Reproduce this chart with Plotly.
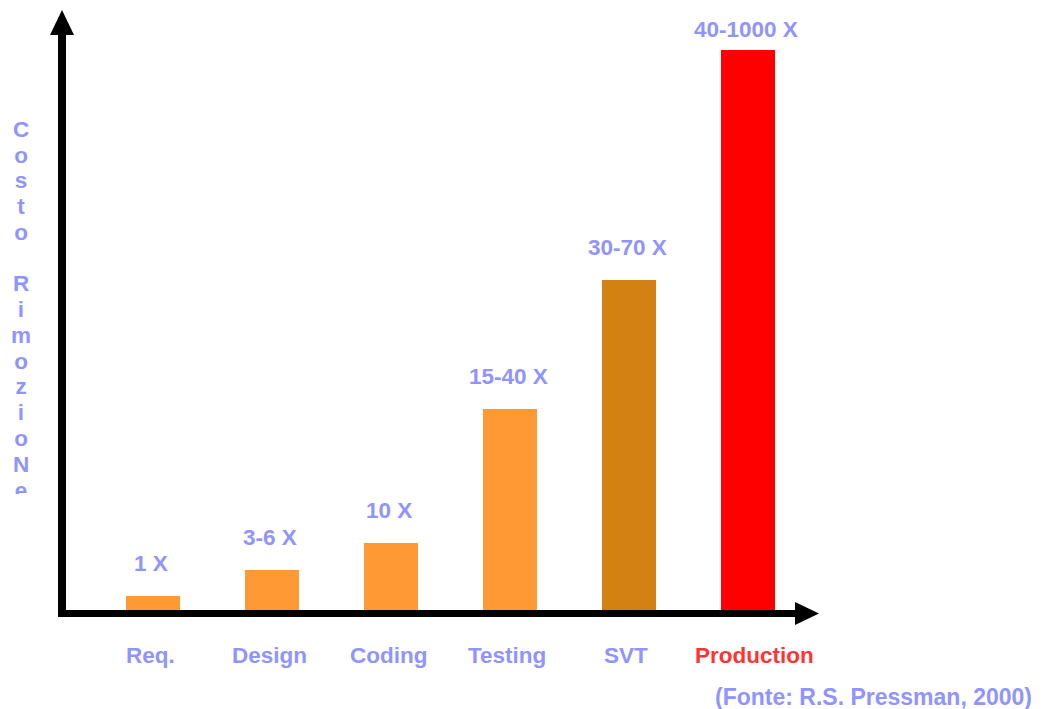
import plotly.graph_objects as go

# Development phases and the relative cost of removing a defect in each one
phases = ["Req.", "Design", "Coding", "Testing", "SVT", "Production"]
cost_labels = ["1 X", "3-6 X", "10 X", "15-40 X", "30-70 X", "40-1000 X"]
bar_heights = [17, 43, 70, 204, 333, 563]  # relative (illustrative) bar heights
bar_colors = ["#FF9933", "#FF9933", "#FF9933", "#FF9933", "#D38113", "#FF0000"]
phase_label_colors = ["#8F94FF", "#8F94FF", "#8F94FF", "#8F94FF", "#8F94FF", "#FF3333"]
axis_title = "Costo RimozioNe"
source_note = "(Fonte: R.S. Pressman, 2000)"

W, H = 1044, 709
TEXT = "#8F94FF"
FONT = "Liberation Sans, Arial, sans-serif"
FS = 22.5

# geometry of the drawing area (pixel based)
BASE_Y = 613          # baseline pixel row
FIRST_X = 153         # centre of first bar
STEP = 119            # distance between bars
BAR_W = 54


def px(xp):
    return xp / W


def py(yp):
    return 1 - yp / H


fig = go.Figure()

fig.add_trace(go.Bar(
    x=list(range(len(phases))),
    y=bar_heights,
    marker=dict(color=bar_colors, line=dict(width=0)),
    width=BAR_W / STEP,
    hoverinfo="skip",
    showlegend=False,
))

# vertical axis title, one letter per row, clipped by its own small subplot
letters = list(axis_title)
row_gap = 25.77
first_baseline = 139
clip_bottom = 494
fig.add_trace(go.Scatter(
    x=[21] * len(letters),
    y=[first_baseline + i * row_gap - 0.35 * FS for i in range(len(letters))],
    text=letters,
    mode="text",
    textposition="middle center",
    textfont=dict(family=FONT, size=FS, color=TEXT, weight="bold"),
    cliponaxis=True,
    hoverinfo="skip",
    showlegend=False,
    xaxis="x2",
    yaxis="y2",
))

annotations = []
label_top_limit = BASE_Y - 29.5
for i, (lab, h) in enumerate(zip(cost_labels, bar_heights)):
    annotations.append(dict(
        x=i, y=min(h + 33, label_top_limit), xref="x", yref="y",
        text=lab, showarrow=False, xanchor="center", yanchor="middle",
        xshift=-2,
        font=dict(family=FONT, size=FS, color=TEXT, weight="bold"),
    ))
for i, (ph, c) in enumerate(zip(phases, phase_label_colors)):
    annotations.append(dict(
        x=i, y=-42, xref="x", yref="y",
        text=ph, showarrow=False, xanchor="center", yanchor="middle",
        xshift=6 if ph == "Production" else -3,
        font=dict(family=FONT, size=FS, color=c, weight="bold"),
    ))
annotations.append(dict(
    x=px(1034), y=py(697), xref="paper", yref="paper",
    text=source_note, showarrow=False, xanchor="right", yanchor="middle",
    font=dict(family=FONT, size=23, color=TEXT, weight="bold"),
))

# axes drawn as thick black arrows
shapes = [
    dict(type="rect", xref="paper", yref="paper",
         x0=px(58), x1=px(66), y0=py(30), y1=py(617),
         fillcolor="black", line=dict(width=0), layer="above"),
    dict(type="path", xref="paper", yref="paper",
         path=f"M {px(62)} {py(10)} L {px(74)} {py(35)} L {px(50)} {py(35)} Z",
         fillcolor="black", line=dict(width=0), layer="above"),
    dict(type="rect", xref="paper", yref="paper",
         x0=px(58), x1=px(798), y0=py(610), y1=py(617),
         fillcolor="black", line=dict(width=0), layer="above"),
    dict(type="path", xref="paper", yref="paper",
         path=f"M {px(819)} {py(613.5)} L {px(795)} {py(602)} L {px(795)} {py(625)} Z",
         fillcolor="black", line=dict(width=0), layer="above"),
]

fig.update_layout(
    width=W, height=H,
    margin=dict(l=0, r=0, t=0, b=0, pad=0),
    paper_bgcolor="white", plot_bgcolor="white",
    xaxis=dict(range=[-FIRST_X / STEP, (W - FIRST_X) / STEP], visible=False,
               domain=[0, 1], fixedrange=True),
    yaxis=dict(range=[-(H - BASE_Y), BASE_Y], visible=False,
               domain=[0, 1], fixedrange=True),
    xaxis2=dict(range=[0, 52], domain=[0, 52 / W], visible=False,
                anchor="y2", fixedrange=True),
    yaxis2=dict(range=[clip_bottom, 0], domain=[1 - clip_bottom / H, 1],
                visible=False, anchor="x2", fixedrange=True),
    annotations=annotations,
    shapes=shapes,
    bargap=0,
)

fig.write_html("out.html")
